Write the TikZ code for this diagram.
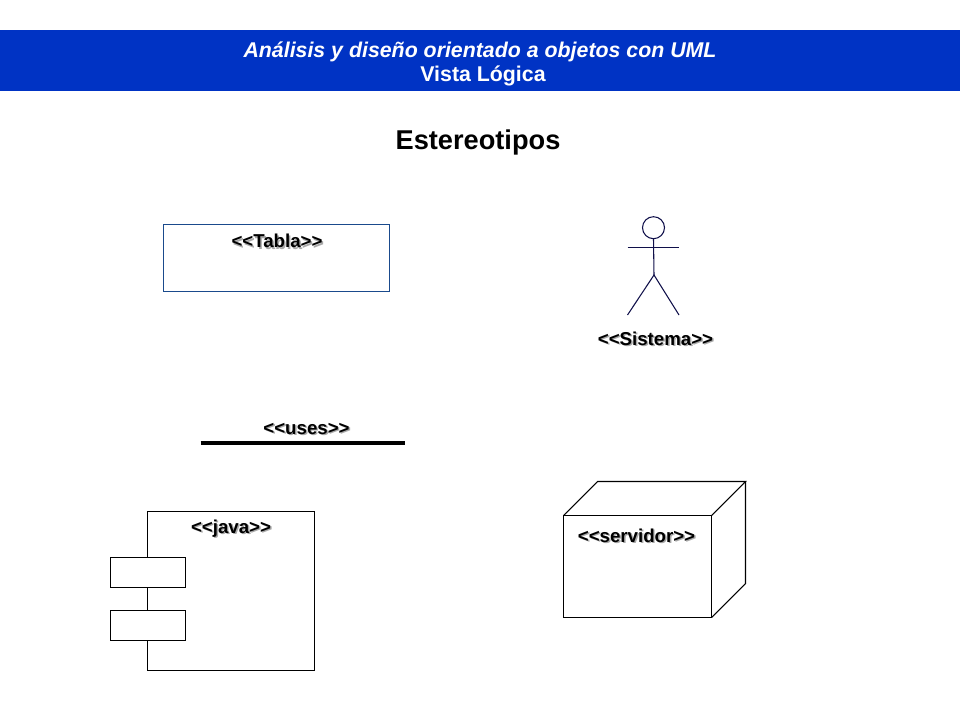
\documentclass[tikz,border=0pt]{standalone}
\usepackage{fontspec}
\setmainfont{Liberation Sans}
\definecolor{banner}{HTML}{0033C4}
\definecolor{tablaline}{HTML}{1A4A8C}
\definecolor{actorline}{HTML}{10104A}
\definecolor{shadowgray}{HTML}{A8A8A8}
\newcommand{\shadowed}[1]{\leavevmode\rlap{\raisebox{-1.1pt}{\hspace{1.1pt}\textcolor{shadowgray}{#1}}}#1}
\tikzset{
  x=0.75pt,y=-0.75pt,
  outline/.style={draw=black,line width=0.8pt},
  tablabox/.style={draw=tablaline,line width=0.8pt},
  actorstroke/.style={draw=actorline,line width=0.8pt},
  stereo/.style={font=\fontsize{14}{16}\selectfont\bfseries,inner sep=0pt,text=black,anchor=base},
  bannertext/.style={font=\fontsize{16}{18}\selectfont\bfseries,text=white,inner sep=0pt,anchor=base},
}
\begin{document}
\begin{tikzpicture}
\useasboundingbox (0,0) rectangle (960,720);
\fill[white] (0,0) rectangle (960,720);
% banner
\fill[banner] (0,30) rectangle (960,91);
\node[bannertext] (bannerA) at (480,57.5) {\itshape Análisis y diseño orientado a objetos con UML};
\node[bannertext] (bannerB) at (483,81.5) {Vista Lógica};
\node[font=\fontsize{20.4}{24}\selectfont\bfseries,inner sep=0pt,anchor=base] (title) at (478,149.5) {Estereotipos};
% tabla
\draw[tablabox] (163.5,224.5) rectangle (389.5,291.5);
\node[stereo] (tabla) at (277,248) {\shadowed{<{}<Tabla>{}>}};
% actor
\coordinate (hip) at (654,275);
\coordinate (armL) at (627.5,247.5);
\coordinate (armR) at (679,247.5);
\coordinate (footL) at (627.5,315);
\coordinate (footR) at (679,315);
\node[circle,actorstroke,minimum size=16.5pt,inner sep=0pt] (head) at (653.5,227.7) {};
\draw[actorstroke] (head.south) -- (hip);
\draw[actorstroke] (armL) -- (armR);
\draw[actorstroke] (footL) -- (hip) -- (footR);
\node[stereo] (sistema) at (655.5,345.5) {\shadowed{<{}<Sistema>{}>}};
% uses
\coordinate (usesL) at (200.5,443);
\coordinate (usesR) at (404.5,443);
\draw[line width=2.3pt,black] (usesL) -- (usesR);
\node[stereo] (uses) at (306.5,434) {\shadowed{<{}<uses>{}>}};
% component
\draw[outline] (147.5,511.5) rectangle (314.5,670.5);
\draw[outline,fill=white] (110.5,557.5) rectangle (185.5,587.5);
\draw[outline,fill=white] (110.5,610.5) rectangle (185.5,640.5);
\node[stereo] (java) at (231,533.5) {\shadowed{<{}<java>{}>}};
% node cube
\draw[outline] (563.5,515.5) rectangle (711.5,617.5);
\draw[outline] (563.5,515.5) -- (597.5,481.5) -- (745.5,481.5) -- (711.5,515.5);
\draw[outline] (745.5,481.5) -- (745.5,583.5) -- (711.5,617.5);
\node[stereo] (servidor) at (636.5,542) {\shadowed{<{}<servidor>{}>}};
\end{tikzpicture}
\end{document}
